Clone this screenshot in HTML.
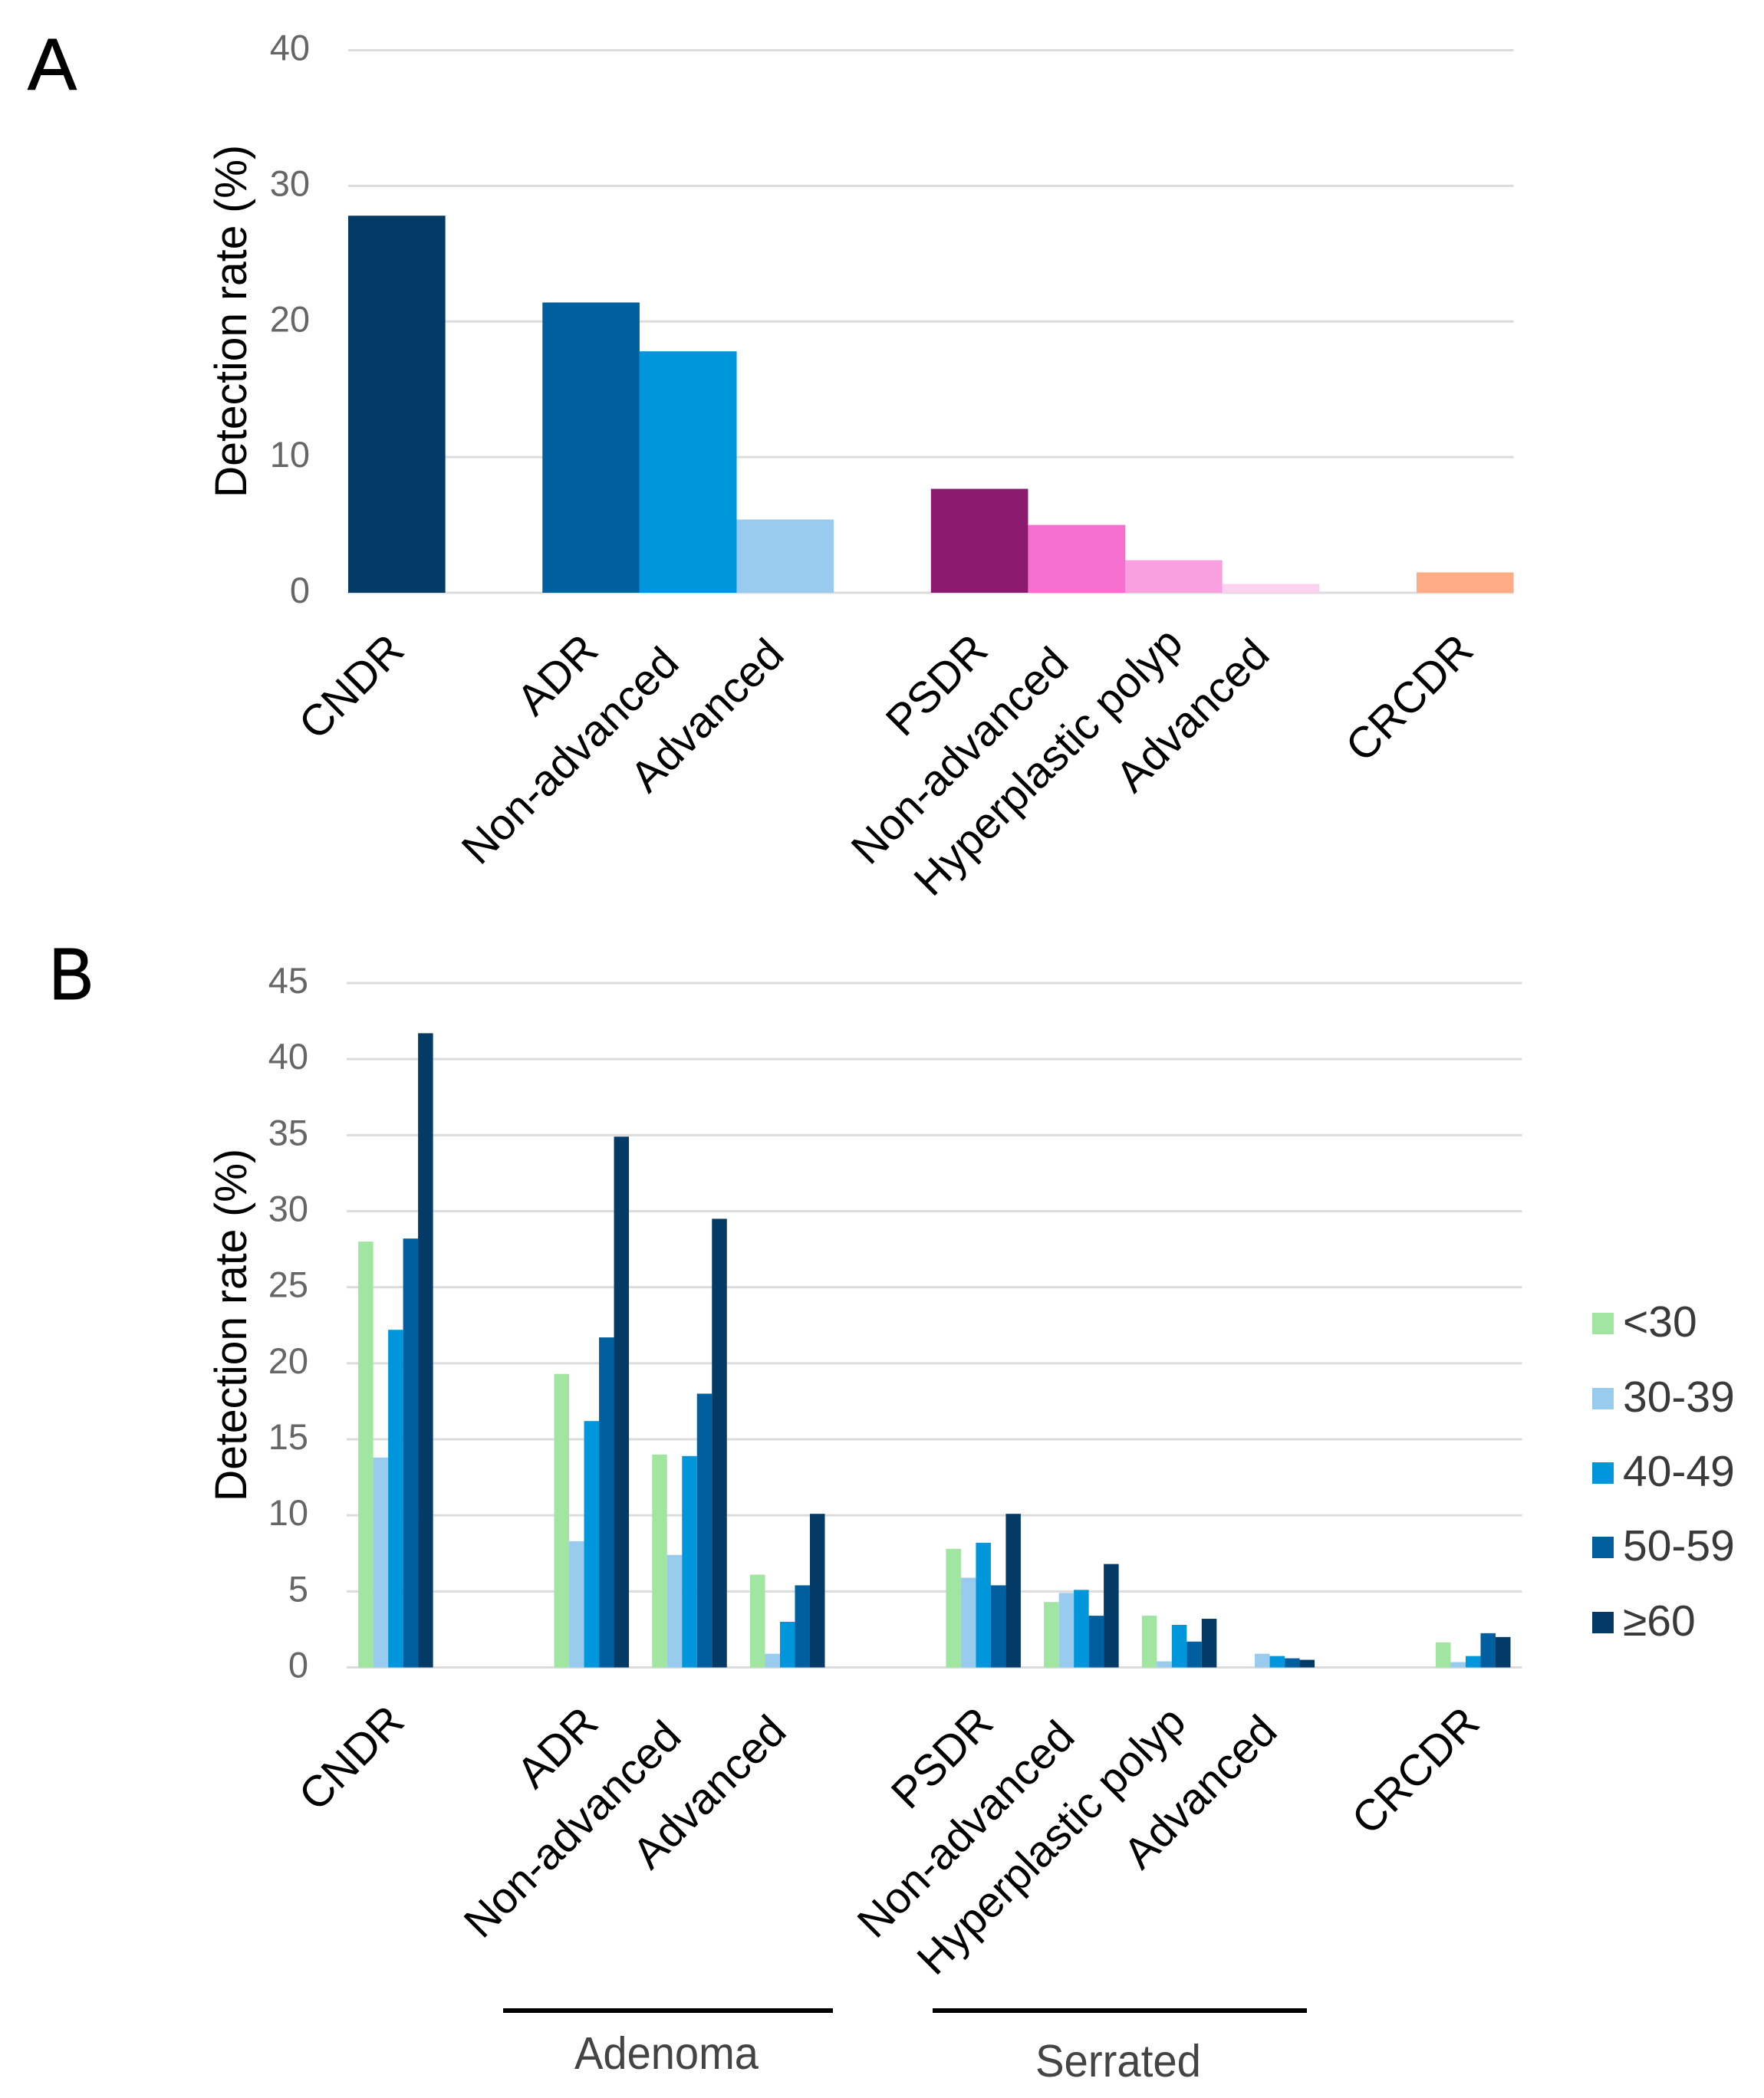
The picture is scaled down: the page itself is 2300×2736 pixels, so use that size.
<!DOCTYPE html>
<html>
<head>
<meta charset="utf-8">
<title>Detection rates</title>
<style>
html,body{margin:0;padding:0;background:#fff;}
svg{display:block;}
text{font-family:"Liberation Sans",sans-serif;}
.cat{font-size:57px;fill:#000;text-anchor:end;}
.catb{font-size:57px;fill:#000;text-anchor:end;}
.tick{font-size:47px;fill:#666;text-anchor:end;}
.ytitle{font-size:58px;fill:#000;text-anchor:middle;}
.leg{font-size:57px;fill:#3a3a3a;}
.group{font-size:59px;fill:#444;text-anchor:middle;}
.panel{font-size:96px;fill:#000;stroke:#000;stroke-width:1;}
</style>
</head>
<body>
<svg id="fig" xmlns="http://www.w3.org/2000/svg" width="2300" height="2736" viewBox="0 0 2300 2736">
  <rect x="0" y="0" width="2300" height="2736" fill="#fff"/>

  <text class="panel" x="36" y="117">A</text>
  <text class="panel" x="64" y="1303" textLength="58" lengthAdjust="spacingAndGlyphs">B</text>

  <g id="chartA"></g>
  <g id="chartB"></g>

  <text class="ytitle" transform="translate(321,419) rotate(-90)" textLength="460" lengthAdjust="spacingAndGlyphs">Detection rate (%)</text>
  <text class="ytitle" transform="translate(321,1728) rotate(-90)" textLength="460" lengthAdjust="spacingAndGlyphs">Detection rate (%)</text>

  <g>
    <text class="cat" transform="translate(530,851) rotate(-45)">CNDR</text>
    <text class="cat" transform="translate(783,851) rotate(-45)">ADR</text>
    <text class="cat" transform="translate(888,868) rotate(-45)">Non-advanced</text>
    <text class="cat" transform="translate(1025,857) rotate(-45)">Advanced</text>
    <text class="cat" transform="translate(1291,851) rotate(-45)">PSDR</text>
    <text class="cat" transform="translate(1396,868) rotate(-45)">Non-advanced</text>
    <text class="cat" transform="translate(1545,842) rotate(-45)">Hyperplastic polyp</text>
    <text class="cat" transform="translate(1658,857) rotate(-45)">Advanced</text>
    <text class="cat" transform="translate(1924,851) rotate(-45)">CRCDR</text>
  </g>

  <g>
    <text class="catb" transform="translate(530,2248) rotate(-45)">CNDR</text>
    <text class="catb" transform="translate(783,2250) rotate(-45)">ADR</text>
    <text class="catb" transform="translate(891,2268) rotate(-45)">Non-advanced</text>
    <text class="catb" transform="translate(1028,2261) rotate(-45)">Advanced</text>
    <text class="catb" transform="translate(1298,2250) rotate(-45)">PSDR</text>
    <text class="catb" transform="translate(1404,2268) rotate(-45)">Non-advanced</text>
    <text class="catb" transform="translate(1549,2249) rotate(-45)">Hyperplastic polyp</text>
    <text class="catb" transform="translate(1668,2261) rotate(-45)">Advanced</text>
    <text class="catb" transform="translate(1932,2250) rotate(-45)">CRCDR</text>
  </g>

  <line x1="656" y1="2622" x2="1086" y2="2622" stroke="#000" stroke-width="6"/>
  <line x1="1216" y1="2622" x2="1704" y2="2622" stroke="#000" stroke-width="6"/>
  <text class="group" x="869" y="2698" textLength="240" lengthAdjust="spacingAndGlyphs">Adenoma</text>
  <text class="group" x="1458" y="2708" textLength="216" lengthAdjust="spacingAndGlyphs">Serrated</text>

  <g>
    <g>
      <rect x="2076" y="1712" width="28" height="28" fill="#a0e5a0"/>
      <text class="leg" x="2116" y="1743">&lt;30</text>
    </g>
    <g>
      <rect x="2076" y="1810" width="28" height="28" fill="#99cbee"/>
      <text class="leg" x="2116" y="1841">30-39</text>
    </g>
    <g>
      <rect x="2076" y="1907" width="28" height="28" fill="#0096dc"/>
      <text class="leg" x="2116" y="1938">40-49</text>
    </g>
    <g>
      <rect x="2076" y="2004" width="28" height="28" fill="#005f9e"/>
      <text class="leg" x="2116" y="2035">50-59</text>
    </g>
    <g>
      <rect x="2076" y="2102" width="28" height="28" fill="#033a66"/>
      <text class="leg" x="2116" y="2133">≥60</text>
    </g>
  </g>
</svg>

<script>
// ---- Chart data ----
const categoriesA = ['CNDR', null, 'ADR', 'Non-advanced', 'Advanced', null, 'PSDR', 'Non-advanced', 'Hyperplastic polyp', 'Advanced', null, 'CRCDR'];
const valuesA = [27.8, null, 21.4, 17.8, 5.4, null, 7.66, 5.0, 2.4, 0.65, null, 1.5];
const colorsA = ['#033a66', null, '#005f9e', '#0096dc', '#99cbee', null, '#8b1a6e', '#f56fcf', '#f9a0e0', '#fbd3f1', null, '#ffab85'];
const ticksA = [0, 10, 20, 30, 40];

const categoriesB = ['CNDR', null, 'ADR', 'Non-advanced', 'Advanced', null, 'PSDR', 'Non-advanced', 'Hyperplastic polyp', 'Advanced', null, 'CRCDR'];
const under30 = [28.0, null, 19.3, 14.0, 6.1, null, 7.8, 4.3, 3.4, 0, null, 1.65];
const age30to39 = [13.8, null, 8.3, 7.4, 0.9, null, 5.9, 4.9, 0.4, 0.9, null, 0.35];
const age40to49 = [22.2, null, 16.2, 13.9, 3.0, null, 8.2, 5.1, 2.8, 0.75, null, 0.75];
const age50to59 = [28.2, null, 21.7, 18.0, 5.4, null, 5.4, 3.4, 1.7, 0.6, null, 2.25];
const age60plus = [41.7, null, 34.9, 29.5, 10.1, null, 10.1, 6.8, 3.2, 0.5, null, 2.0];
const seriesNamesB = ['under-30', '30-39', '40-49', '50-59', '60-plus'];
const seriesColorsB = ['#a0e5a0', '#99cbee', '#0096dc', '#005f9e', '#033a66'];
const ticksB = [0, 5, 10, 15, 20, 25, 30, 35, 40, 45];

// ---- Axis functions ----
const SVGNS = 'http://www.w3.org/2000/svg';
function yA(v) { return 773 - v * (773 - 65.5) / 40; }
function xA(i) { return 454 + i * (1973.6 - 454) / categoriesA.length; }
function yB(v) { return 2174.5 - v * (2174.5 - 1282) / 45; }
function xB(i) { return 452 + i * (1984.6 - 452) / categoriesB.length; }
const groupWidthB = 97.5;

function make(tag, parent, attrs) {
  const el = document.createElementNS(SVGNS, tag);
  for (const k in attrs) el.setAttribute(k, attrs[k]);
  parent.appendChild(el);
  return el;
}
function slug(s) { return s.toLowerCase().replace(/\s+/g, '-'); }

function drawAxis(parent, ticks, y, x0, x1, suffix) {
  ticks.forEach(function (t) {
    const line = make('line', parent, { x1: x0, x2: x1, y1: y(t), y2: y(t), stroke: '#dcdcdc', 'stroke-width': 3 });
    
    
    const label = make('text', parent, { x: x0 - 50, y: y(t) + 13, class: 'tick' });
    label.textContent = String(t);
    
    
  });
}

// ---- Panel A ----
const gA = document.getElementById('chartA');
drawAxis(gA, ticksA, yA, xA(0), xA(categoriesA.length), '-a');
categoriesA.forEach(function (cat, i) {
  if (cat === null) return;
  const bar = make('rect', gA, {
    x: xA(i), y: yA(valuesA[i]),
    width: xA(i + 1) - xA(i),
    height: yA(0) - yA(valuesA[i]),
    fill: colorsA[i]
  });
  
  
});

// ---- Panel B ----
const gB = document.getElementById('chartB');
drawAxis(gB, ticksB, yB, xB(0), xB(categoriesB.length), '-b');
[under30, age30to39, age40to49, age50to59, age60plus].forEach(function (series, s) {
  categoriesB.forEach(function (cat, i) {
    if (cat === null) return;
    const center = (xB(i) + xB(i + 1)) / 2;
    const w = groupWidthB / 5;
    const bar = make('rect', gB, {
      x: center - groupWidthB / 2 + s * w,
      y: yB(series[i]),
      width: w,
      height: yB(0) - yB(series[i]),
      fill: seriesColorsB[s]
    });
    
    
  });
});
</script>
</body>
</html>
